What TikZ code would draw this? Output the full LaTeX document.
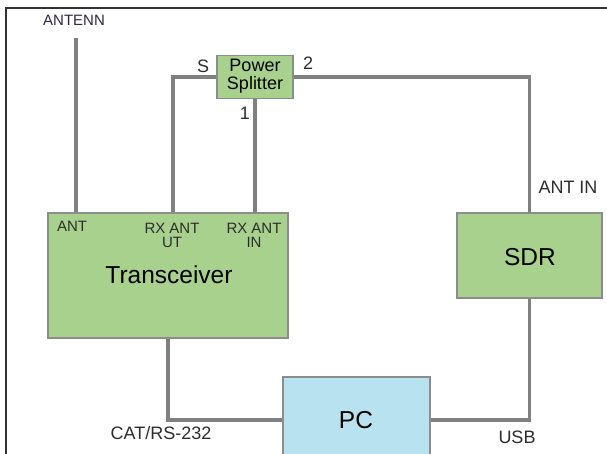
\documentclass[tikz,border=0pt]{standalone}
\usepackage{fontspec}
\setmainfont{Liberation Sans}
\usetikzlibrary{backgrounds}
\definecolor{boxgreen}{RGB}{169,209,142}
\definecolor{boxblue}{RGB}{184,226,240}
\definecolor{wiregray}{RGB}{128,128,128}
\definecolor{edgegray}{RGB}{140,140,140}
\definecolor{labelgray}{RGB}{45,45,45}
\definecolor{framegray}{RGB}{50,50,50}
\tikzset{
  greenbox/.style={draw=edgegray, line width=1.1pt, fill=boxgreen, inner sep=0pt, outer sep=0pt},
  bluebox/.style={draw=edgegray, line width=1.1pt, fill=boxblue, inner sep=0pt, outer sep=0pt},
  wire/.style={draw=wiregray, line width=3.5pt},
  smalllbl/.style={font=\fontsize{15}{14}\selectfont, text=labelgray, inner sep=0pt, align=center},
  midlbl/.style={font=\fontsize{18}{18}\selectfont, text=labelgray, inner sep=0pt, align=center},
  biglbl/.style={font=\fontsize{24.5}{26}\selectfont, text=black, inner sep=0pt},
}
\begin{document}
\begin{tikzpicture}[x=1pt,y=-1pt]
\useasboundingbox (0,0) rectangle (607,454);
\clip (0,0) rectangle (607,454);
% frame
\draw[framegray, line width=1.6pt] (6,454) -- (6,8) -- (607,8);
% boxes
\node[greenbox, minimum width=240pt, minimum height=125pt] (trx) at (168,275.5) {};
\node[greenbox, minimum width=76pt, minimum height=43pt] (ps) at (255,77) {};
\node[greenbox, minimum width=145pt, minimum height=85pt] (sdr) at (529.5,255.5) {};
\node[bluebox, minimum width=147pt, minimum height=86pt] (pc) at (356.5,420) {};
% box texts
\node[biglbl] (trxt) at (169,275) {Transceiver};
\node[biglbl] (sdrt) at (530,257) {SDR};
\node[biglbl] (pct) at (356,420) {PC};
\node[midlbl, text=black] (pst) at (255,76.5) {Power\\Splitter};
% labels
\node[smalllbl, text={rgb,255:red,50;green,38;blue,70}] (antenn) at (74,20) {ANTENN};
\node[smalllbl] (antl) at (72,226) {ANT};
\node[smalllbl] (rxout) at (172,235) {RX ANT\\UT};
\node[smalllbl] (rxin) at (254,235) {RX ANT\\IN};
\node[midlbl] (sl) at (203,66) {S};
\node[midlbl] (twol) at (308,63) {2};
\node[midlbl] (onel) at (245,113) {1};
\node[midlbl] (antin) at (568,187) {ANT IN};
\node[midlbl] (cat) at (161,433) {CAT/RS-232};
\node[midlbl] (usb) at (517,437) {USB};
% connector ends
\coordinate (antTop) at (76,38);
\coordinate (rxoutTop) at (173,213);
\begin{pgfonlayer}{background}
\fill[white] (0,0) rectangle (607,454);
\draw[wire] (antTop) -- (antTop |- trx.north);
\draw[wire] (ps.west) -| (rxoutTop);
\draw[wire] (ps.south) -- (ps.south |- trx.north);
\draw[wire] (ps.east) -| (sdr.north);
\draw[wire] (sdr.south) |- (pc.east);
\draw[wire] (trx.south) |- (pc.west);
\end{pgfonlayer}
\end{tikzpicture}
\end{document}
